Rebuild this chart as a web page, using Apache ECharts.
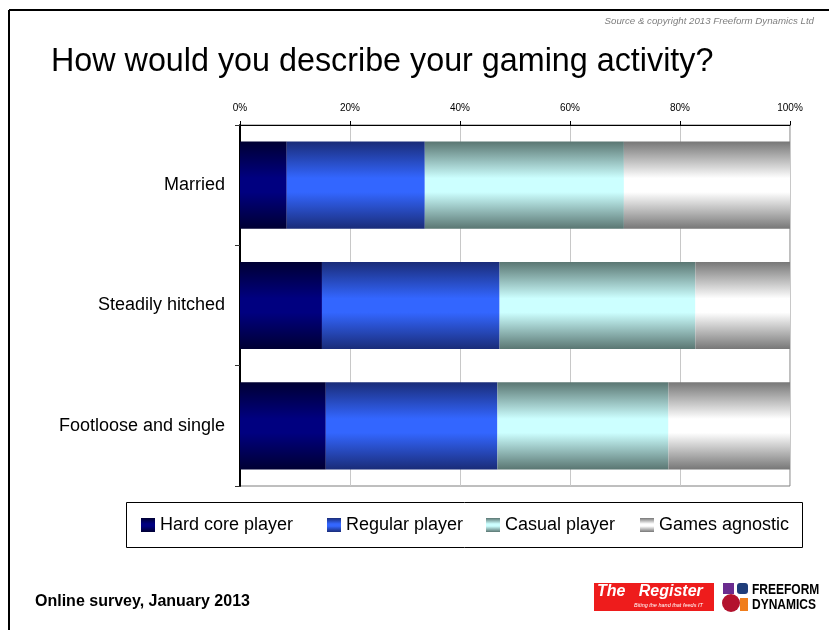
<!DOCTYPE html>
<html>
<head>
<meta charset="utf-8">
<script src="https://cdn.jsdelivr.net/npm/echarts@6/dist/echarts.min.js"></script>
<style>
  html, body { margin: 0; padding: 0; background: #fff; }
  #bar { width: 829px; height: 630px; }
</style>
</head>
<body>
<div id="bar"></div>
<script>
// categories, top to bottom
var categories = ['Married', 'Steadily hitched', 'Footloose and single'];
var seriesNames = ['Hard core player', 'Regular player', 'Casual player', 'Games agnostic'];

// percentages
var hardCore = [8.5, 14.9, 15.6];
var regular = [25.1, 32.3, 31.2];
var casual = [36.2, 35.6, 31.1];
var agnostic = [30.2, 17.2, 22.1];

var xTicks = [0, 20, 40, 60, 80, 100];

// edge colour / middle colour for each band
var shades = [
  ['#000033', '#000080'],
  ['#1a2c78', '#3366ff'],
  ['#5a7672', '#ccffff'],
  ['#777777', '#ffffff']
];

// legend item x positions in the box
var legendLeft = [141, 327, 486, 640];

function grad(edge, mid) {
  return new echarts.graphic.LinearGradient(0, 0, 0, 1, [
    { offset: 0, color: edge },
    { offset: 0.42, color: mid },
    { offset: 0.58, color: mid },
    { offset: 1, color: edge }
  ]);
}

var chart = echarts.init(document.getElementById('bar'));
var font = 'Liberation Sans, Arial, sans-serif';

var series = [hardCore, regular, casual, agnostic].map(function (vals, i) {
  return {
    name: seriesNames[i],
    type: 'bar',
    stack: 'all',
    barCategoryGap: '27.5%',
    itemStyle: { color: grad(shades[i][0], shades[i][1]) },
    emphasis: { disabled: true },
    data: vals
  };
});

var legends = seriesNames.map(function (name, i) {
  return {
    left: legendLeft[i],
    top: 516,
    padding: 0,
    itemWidth: 14,
    itemHeight: 14,
    icon: 'rect',
    textStyle: { fontSize: 18, color: '#000' },
    data: [name],
    selectedMode: false
  };
});

chart.setOption({
  animation: false,
  textStyle: { fontFamily: font },
  grid: {
    left: 240, right: 39, top: 125, bottom: 144,
    show: true, borderColor: '#7f7f7f', borderWidth: 1, backgroundColor: 'transparent'
  },
  xAxis: {
    type: 'value',
    position: 'top',
    min: xTicks[0],
    max: xTicks[xTicks.length - 1],
    interval: 20,
    axisLine: { show: true, lineStyle: { color: '#000', width: 1 } },
    axisTick: { show: true, length: 4, lineStyle: { color: '#000' } },
    axisLabel: { formatter: '{value}%', fontSize: 10, color: '#000', margin: 12 },
    splitLine: { show: true, lineStyle: { color: '#c8c8c8', width: 1 } }
  },
  yAxis: {
    type: 'category',
    inverse: true,
    data: categories,
    axisLine: { show: true, lineStyle: { color: '#000', width: 2 } },
    axisTick: { show: true, length: 5, lineStyle: { color: '#333' } },
    axisLabel: { fontSize: 18, color: '#000', margin: 15, lineHeight: 26, verticalAlign: 'middle' }
  },
  legend: legends,
  graphic: [
    // slide frame
    { type: 'line', shape: { x1: 9, y1: 10, x2: 829, y2: 10 }, style: { stroke: '#000', lineWidth: 2 } },
    { type: 'line', shape: { x1: 9, y1: 10, x2: 9, y2: 630 }, style: { stroke: '#000', lineWidth: 2 } },
    {
      type: 'text', right: 15, top: 16,
      style: { text: 'Source & copyright 2013 Freeform Dynamics Ltd', fill: '#7f7f7f', fontSize: 9.7, fontStyle: 'italic', fontFamily: font }
    },
    {
      type: 'text', left: 51, top: 46,
      style: { text: 'How would you describe your gaming activity?', fill: '#000', fontSize: 32.3, fontFamily: font }
    },
    // legend box
    { type: 'rect', shape: { x: 126.5, y: 502.5, width: 676, height: 45 }, style: { fill: 'none', stroke: '#000', lineWidth: 1 } },
    {
      type: 'text', left: 35, top: 594,
      style: { text: 'Online survey, January 2013', fill: '#000', fontSize: 16, fontWeight: 'bold', fontFamily: font }
    },
    // The Register logo
    { type: 'rect', shape: { x: 594, y: 583, width: 120, height: 28 }, style: { fill: '#ee1c1c' } },
    {
      type: 'text', left: 597, top: 584,
      style: { text: 'The\u00A0\u00A0\u00A0Register', fill: '#fff', fontSize: 16, fontWeight: 'bold', fontStyle: 'italic', fontFamily: font }
    },
    {
      type: 'text', left: 634, top: 602,
      style: { text: 'Biting the hand that feeds IT', fill: '#fff', fontSize: 5.5, fontStyle: 'italic', fontFamily: font }
    },
    // Freeform Dynamics logo
    { type: 'rect', shape: { x: 723, y: 583, width: 11, height: 11 }, style: { fill: '#6b2c8f' } },
    { type: 'rect', shape: { x: 737, y: 583, width: 11, height: 11, r: 3 }, style: { fill: '#1f3d7a' } },
    { type: 'circle', shape: { cx: 731, cy: 603, r: 9 }, style: { fill: '#b3122e' } },
    { type: 'rect', shape: { x: 740, y: 598, width: 8, height: 13 }, style: { fill: '#f07d1c' } },
    {
      type: 'text', x: 752, y: 582, scaleX: 0.8,
      style: { text: 'FREEFORM', fill: '#000', fontSize: 15, fontWeight: 'bold', fontFamily: font }
    },
    {
      type: 'text', x: 752, y: 597, scaleX: 0.8,
      style: { text: 'DYNAMICS', fill: '#000', fontSize: 15, fontWeight: 'bold', fontFamily: font }
    }
  ],
  series: series
});
</script>
</body>
</html>
